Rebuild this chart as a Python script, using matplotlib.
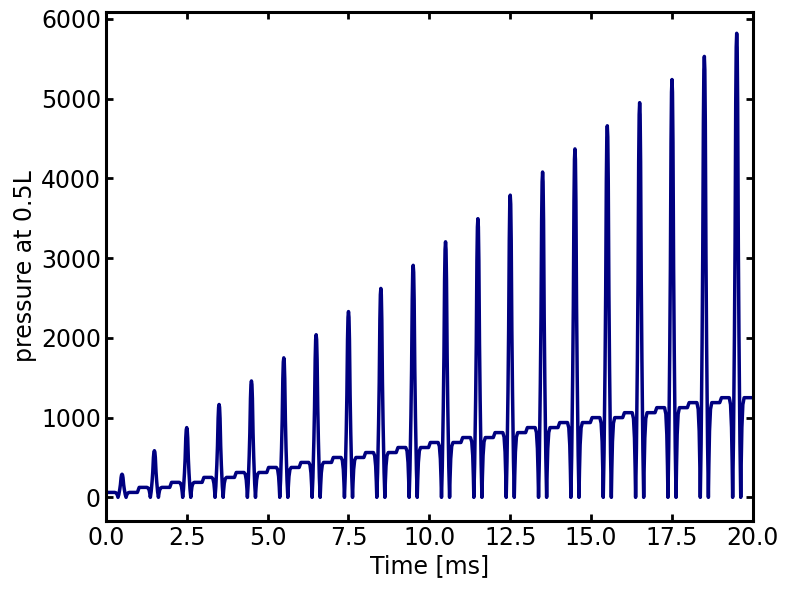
import numpy as np
import matplotlib
matplotlib.use('Agg')
import matplotlib.pyplot as plt

# cycle start times [ms], plateau level in each cycle, and spike height at mid-cycle
cycle_start = [0, 1, 2, 3, 4, 5, 6, 7, 8, 9, 10, 11, 12, 13, 14, 15, 16, 17, 18, 19]
plateau = [62, 125, 188, 250, 312, 375, 438, 500, 562, 625,
           688, 750, 812, 875, 938, 1000, 1062, 1125, 1188, 1250]
peak = [290, 585, 875, 1165, 1460, 1750, 2040, 2330, 2620, 2910,
        3205, 3495, 3790, 4080, 4370, 4660, 4950, 5240, 5530, 5820]

# shape of one cycle: (phase offset, fraction of plateau, fraction of peak)
shape = [
    (0.03, 1.0, 0.0), (0.27, 1.0, 0.0), (0.31, 0.93, 0.0), (0.34, 0.7, 0.0),
    (0.36, 0.35, 0.0), (0.375, 0.0, 0.0),
    (0.40, 0.0, 0.12), (0.43, 0.0, 0.35), (0.45, 0.0, 0.55), (0.47, 0.0, 0.85),
    (0.485, 0.0, 0.97), (0.50, 0.0, 1.0), (0.515, 0.0, 0.97),
    (0.53, 0.0, 0.85), (0.55, 0.0, 0.55), (0.57, 0.0, 0.35), (0.60, 0.0, 0.12),
    (0.625, 0.0, 0.0),
    (0.64, 0.35, 0.0), (0.66, 0.7, 0.0), (0.69, 0.93, 0.0), (0.73, 1.0, 0.0),
    (0.975, 1.0, 0.0),
]

t, p = [0.0], [plateau[0]]
for k, t0 in enumerate(cycle_start):
    for dt, fl, fp in shape:
        t.append(t0 + dt)
        p.append(fl * plateau[k] + fp * peak[k])
t.append(20.0)
p.append(plateau[-1])

plt.rcParams['font.family'] = 'DejaVu Sans'
fig, ax = plt.subplots(figsize=(7.9, 5.89), dpi=100)
fig.subplots_adjust(left=0.134, right=0.953, top=0.98, bottom=0.115)

ax.plot(t, p, color='#000080', linewidth=2.5)

ax.set_xlim(0, 20)
ax.set_ylim(-300, 6090)
ax.set_xticks(np.arange(0, 20.1, 2.5))
ax.set_yticks(np.arange(0, 6001, 1000))
ax.set_xlabel('Time [ms]', fontsize=17, labelpad=3)
ax.set_ylabel('pressure at 0.5L', fontsize=17, labelpad=3)

ax.tick_params(direction='in', top=True, right=True, length=5, width=2,
               labelsize=17, pad=3.5)
for s in ax.spines.values():
    s.set_linewidth(2.2)

plt.savefig('out.png', dpi=100)
